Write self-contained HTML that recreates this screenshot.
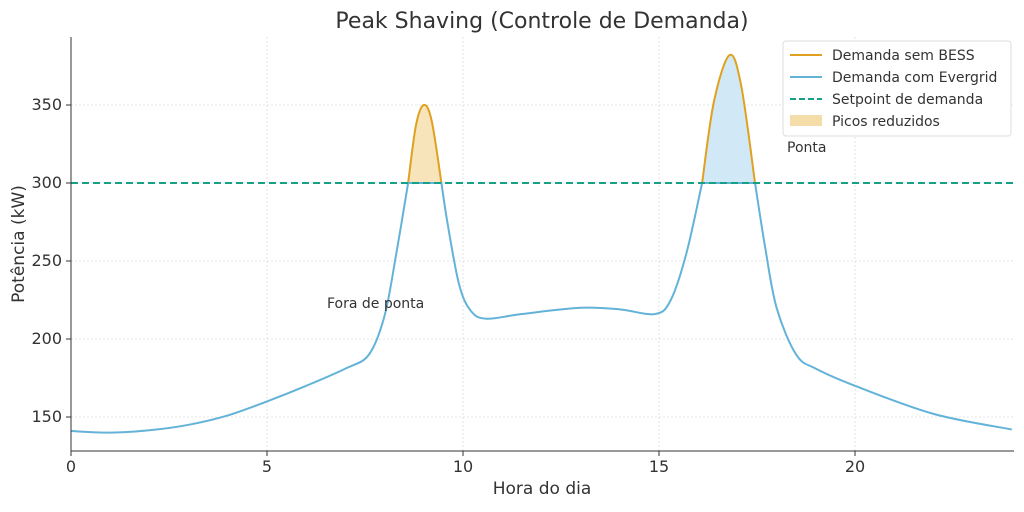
<!DOCTYPE html>
<html><head><meta charset="utf-8"><style>
body{margin:0;background:#fff}
svg text{font-family:"DejaVu Sans","Liberation Sans",sans-serif;fill:#333}
</style></head><body>
<svg id="s" width="1024" height="507" xmlns="http://www.w3.org/2000/svg">
<rect width="1024" height="507" fill="#fff"/>
<g id="grid" stroke="#ddd" stroke-width="0.8" stroke-dasharray="2,2"></g>
<path id="fill1" fill="#f5ddaa" opacity="0.8"/>
<path id="fill2" fill="#cce6f5" opacity="0.9"/>
<path id="or1" fill="none" stroke="#e0a020" stroke-width="2"/>
<path id="or2" fill="none" stroke="#e0a020" stroke-width="2"/>
<path id="blue" fill="none" stroke="#63b3d8" stroke-width="2"/>
<line x1="71" x2="1014" y1="183" y2="183" stroke="#16a085" stroke-width="2" stroke-dasharray="7,4"/>
<line x1="71" y1="37" x2="71" y2="451" stroke="#333" stroke-width="1"/>
<line x1="71" y1="451" x2="1014" y2="451" stroke="#333" stroke-width="1"/>
<g id="ticks" font-size="16"></g>
<text x="542" y="28" font-size="22" text-anchor="middle">Peak Shaving (Controle de Demanda)</text>
<text x="542" y="494" font-size="17" text-anchor="middle">Hora do dia</text>
<text transform="translate(24,244) rotate(-90)" font-size="17" text-anchor="middle">Potência (kW)</text>
<text x="327" y="308" font-size="14">Fora de ponta</text>
<text x="787" y="152" font-size="14">Ponta</text>
<g font-size="14">
<rect x="783" y="41" width="228" height="95" fill="#fff" stroke="#ddd" rx="3"/>
<line x1="790" x2="822" y1="55" y2="55" stroke="#e0a020" stroke-width="2"/><text x="832" y="60">Demanda sem BESS</text>
<line x1="790" x2="822" y1="77" y2="77" stroke="#63b3d8" stroke-width="2"/><text x="832" y="82">Demanda com Evergrid</text>
<line x1="790" x2="822" y1="99" y2="99" stroke="#16a085" stroke-width="2" stroke-dasharray="6,3"/><text x="832" y="104">Setpoint de demanda</text>
<rect x="790" y="115" width="32" height="11" fill="#f5ddaa"/><text x="832" y="126">Picos reduzidos</text>
</g>
</svg>
<script>
const X=t=>71+t*39.2, Y=p=>183-(p-300)*1.56;
function cr(pts){let d="M"+X(pts[0][0])+","+Y(pts[0][1]);
for(let i=0;i<pts.length-1;i++){const p0=pts[Math.max(0,i-1)],p1=pts[i],p2=pts[i+1],p3=pts[Math.min(pts.length-1,i+2)];
const a=[X(p1[0])+(X(p2[0])-X(p0[0]))/6,Y(p1[1])+(Y(p2[1])-Y(p0[1]))/6],b=[X(p2[0])-(X(p3[0])-X(p1[0]))/6,Y(p2[1])-(Y(p3[1])-Y(p1[1]))/6];
d+=`C${a[0]},${a[1]} ${b[0]},${b[1]} ${X(p2[0])},${Y(p2[1])}`;}return d;}
const A=[[0,141],[1,140],[2,141.5],[3,145],[4,151],[5,160],[6,170],[7,181],[7.6,190],[8,215],[8.3,255],[8.6,300]];
const B=[[9.45,300],[9.6,275],[9.9,235],[10.2,218],[10.6,213],[11.5,216],[13,220],[14,219],[14.9,216],[15.3,225],[15.7,255],[16.1,300]];
const C=[[17.45,300],[17.7,260],[18,220],[18.5,190],[19,181],[20,170],[22,152],[24,142]];
const blue=cr(A)+"L"+X(9.45)+","+Y(300)+cr(B).replace("M","L")+"L"+X(17.45)+","+Y(300)+cr(C).replace("M","L");
document.getElementById("blue").setAttribute("d",blue);
const o1=cr([[8.6,300],[8.8,337],[9,350],[9.2,340],[9.45,300]]),o2=cr([[16.1,300],[16.4,352],[16.8,382],[17.1,362],[17.45,300]]);
document.getElementById("or1").setAttribute("d",o1);document.getElementById("or2").setAttribute("d",o2);
document.getElementById("fill1").setAttribute("d",o1+"Z");document.getElementById("fill2").setAttribute("d",o2+"Z");
let g="",t="";
for(const x of [0,5,10,15,20]){g+=`<line x1="${X(x)}" x2="${X(x)}" y1="37" y2="451"/>`;t+=`<line x1="${X(x)}" x2="${X(x)}" y1="451" y2="456" stroke="#333"/><text x="${X(x)}" y="472" text-anchor="middle">${x}</text>`;}
for(const p of [150,200,250,300,350]){g+=`<line x1="71" x2="1014" y1="${Y(p)}" y2="${Y(p)}"/>`;t+=`<line x1="66" x2="71" y1="${Y(p)}" y2="${Y(p)}" stroke="#333"/><text x="62" y="${Y(p)+5}" text-anchor="end">${p}</text>`;}
document.getElementById("grid").innerHTML=g;document.getElementById("ticks").innerHTML=t;
</script>
</body></html>
